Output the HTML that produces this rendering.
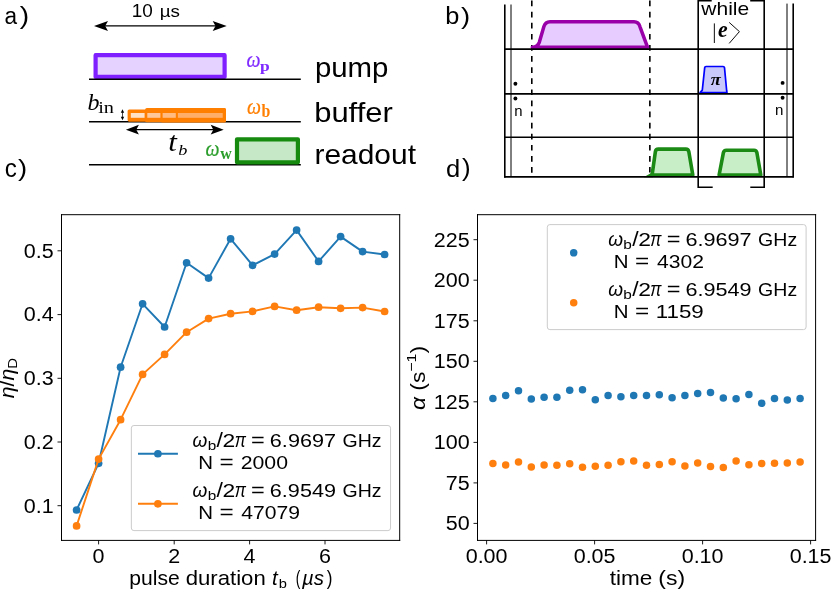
<!DOCTYPE html>
<html><head><meta charset="utf-8"><title>figure</title>
<style>
html,body{margin:0;padding:0;background:#fff;}
svg{display:block;will-change:transform;}
text{white-space:pre;}
</style></head>
<body>
<svg width="831" height="589" viewBox="0 0 831 589">
<rect width="831" height="589" fill="#fff"/>
<text transform="matrix(0.8705,0,0,0.9554,4.54,24.25)" font-size="26" font-family="Liberation Sans, sans-serif" fill="#000" >a</text>
<text transform="matrix(1.0842,0,0,0.9322,19.69,23.77)" font-size="26" font-family="Liberation Sans, sans-serif" fill="#000" >)</text>
<text transform="matrix(0.9302,0,0,0.9554,4.67,176.85)" font-size="26" font-family="Liberation Sans, sans-serif" fill="#000" >c</text>
<text transform="matrix(1.0549,0,0,0.9322,17.89,176.47)" font-size="26" font-family="Liberation Sans, sans-serif" fill="#000" >)</text>
<text transform="matrix(1.0526,0,0,0.9737,131.78,17.02)" font-size="18" font-family="Liberation Sans, sans-serif" fill="#000" >10</text>
<text transform="matrix(1.0454,0,0,0.8874,159.63,17.09)" font-size="18" font-family="Liberation Sans, sans-serif" fill="#000" >µs</text>
<line x1="102.4" y1="25.9" x2="218.29999999999998" y2="25.9" stroke="#000" stroke-width="1.3"/>
<path d="M94,25.9 L108,20.9 L105.2,25.9 L108,30.9 Z" fill="#000"/>
<path d="M226.7,25.9 L212.7,20.9 L215.5,25.9 L212.7,30.9 Z" fill="#000"/>
<rect x="95.6" y="55.15" width="129" height="21.75" fill="#e6d2ff" stroke="#7f1fff" stroke-width="4.2" stroke-linejoin="round"/>
<line x1="89" y1="79.25" x2="300.8" y2="79.25" stroke="#000" stroke-width="1.5"/>
<line x1="89" y1="121.7" x2="300.8" y2="121.7" stroke="#000" stroke-width="1.5"/>
<line x1="89" y1="164.7" x2="300.8" y2="164.7" stroke="#000" stroke-width="1.5"/>
<rect x="127.6" y="109.4" width="98.3" height="12.3" rx="1.6" fill="#ff7f00"/>
<rect x="145.2" y="108" width="80.7" height="14.3" rx="1.6" fill="#ff7f00"/>
<rect x="160.8" y="108" width="65.1" height="14.6" rx="1.6" fill="#ff7f00"/>
<rect x="130.8" y="113.0" width="13.8" height="4.8" fill="#ffe2c6"/>
<rect x="147.3" y="113.0" width="13.1" height="4.8" fill="#ffc898"/>
<rect x="162.6" y="113.0" width="13.2" height="4.8" fill="#ffbb82"/>
<rect x="177.9" y="113.0" width="44.8" height="4.8" fill="#ffae6a"/>
<line x1="133.70000000000002" y1="129.7" x2="215.89999999999998" y2="129.7" stroke="#000" stroke-width="1.3"/>
<path d="M125.9,129.7 L138.9,124.79999999999998 L136.3,129.7 L138.9,134.6 Z" fill="#000"/>
<path d="M223.7,129.7 L210.7,124.79999999999998 L213.29999999999998,129.7 L210.7,134.6 Z" fill="#000"/>
<line x1="122.5" y1="111" x2="122.5" y2="118.5" stroke="#000" stroke-width="0.7"/>
<path d="M122.5,109.2 L124.2,112.8 L120.8,112.8 Z" fill="#000"/><path d="M122.5,120.3 L124.2,116.7 L120.8,116.7 Z" fill="#000"/>
<rect x="237" y="139.3" width="60.9" height="23.0" fill="#c6e8c6" stroke="#158a0e" stroke-width="4.2" stroke-linejoin="round"/>
<text transform="matrix(1.0498,0,0,0.9636,314.89,76.50)" font-size="28" font-family="Liberation Sans, sans-serif" fill="#000" >pump</text>
<text transform="matrix(1.1059,0,0,0.9864,314.19,122.32)" font-size="28" font-family="Liberation Sans, sans-serif" fill="#000" >buffer</text>
<text transform="matrix(1.0690,0,0,0.9815,314.48,164.23)" font-size="28" font-family="Liberation Sans, sans-serif" fill="#000" >readout</text>
<text x="87.4" y="110" font-size="24" font-family="Liberation Serif, serif" font-style="italic">b</text>
<text x="98.2" y="113.1" font-size="16" font-family="Liberation Serif, serif" textLength="15.8" lengthAdjust="spacingAndGlyphs">in</text>
<text transform="matrix(1.1033,0,0,0.9814,168.21,151.33)" font-size="28" font-family="Liberation Serif, serif" font-style="italic" fill="#000" >t</text>
<text transform="matrix(1.0745,0,0,0.9095,178.32,155.05)" font-size="17" font-family="Liberation Serif, serif" font-style="italic" fill="#000" >b</text>
<text x="246.4" y="67" font-size="23" font-family="Liberation Serif, serif" font-style="italic" fill="#7f2aff" stroke="#7f2aff" stroke-width="0.2" textLength="14" lengthAdjust="spacingAndGlyphs">ω</text>
<text x="260.0" y="71.2" font-size="15" font-family="Liberation Serif, serif" font-weight="bold" fill="#7f2aff" textLength="9.7" lengthAdjust="spacingAndGlyphs">p</text>
<text x="247.0" y="114" font-size="23" font-family="Liberation Serif, serif" font-style="italic" fill="#ff7f00" stroke="#ff7f00" stroke-width="0.2" textLength="14" lengthAdjust="spacingAndGlyphs">ω</text>
<text x="261.4" y="117" font-size="18" font-family="Liberation Serif, serif" font-weight="bold" fill="#ff7f00" textLength="8.8" lengthAdjust="spacingAndGlyphs">b</text>
<text x="205.5" y="155.6" font-size="23" font-family="Liberation Serif, serif" font-style="italic" fill="#2a9d2a" stroke="#2a9d2a" stroke-width="0.2" textLength="14" lengthAdjust="spacingAndGlyphs">ω</text>
<text x="220.3" y="159.0" font-size="16" font-family="Liberation Serif, serif" font-weight="bold" fill="#2a9d2a" textLength="11.5" lengthAdjust="spacingAndGlyphs">w</text>
<text transform="matrix(0.9744,0,0,0.9314,445.35,23.76)" font-size="26" font-family="Liberation Sans, sans-serif" fill="#000" >b</text>
<text transform="matrix(1.0549,0,0,0.9363,460.89,23.85)" font-size="26" font-family="Liberation Sans, sans-serif" fill="#000" >)</text>
<text transform="matrix(0.9829,0,0,0.9471,446.11,176.75)" font-size="26" font-family="Liberation Sans, sans-serif" fill="#000" >d</text>
<text transform="matrix(0.9963,0,0,0.9322,462.01,176.47)" font-size="26" font-family="Liberation Sans, sans-serif" fill="#000" >)</text>
<line x1="504.8" y1="4.5" x2="504.8" y2="177.8" stroke="#000" stroke-width="1.6"/>
<line x1="511" y1="4.5" x2="511" y2="177" stroke="#000" stroke-width="1"/>
<line x1="793.2" y1="3.6" x2="793.2" y2="177.6" stroke="#000" stroke-width="1.6"/>
<line x1="787" y1="3.6" x2="787" y2="177" stroke="#000" stroke-width="1"/>
<line x1="531.8" y1="0.6" x2="531.8" y2="173.5" stroke="#000" stroke-width="1.6" stroke-dasharray="5.7,5.4"/>
<line x1="649.85" y1="0.6" x2="649.85" y2="172.5" stroke="#000" stroke-width="1.6" stroke-dasharray="5.7,5.4"/>
<path d="M532.3,47.3 C536,47.1 538,45.8 539.3,42.3 L543.9,26.6 C545,23 547,21.8 550,21.8 L634,21.8 C637.5,21.8 639,23.3 640,26.8 L647.6,47.3 Z" fill="#e6ccff" stroke="#9900a8" stroke-width="3.5" stroke-linejoin="round"/>
<path d="M711.7,0.6 L698.2,0.6 L698.2,187.2 L712.7,187.2 M750.2,0.6 L764.2,0.6 L764.2,187.2 L750.3,187.2" fill="none" stroke="#000" stroke-width="1.6"/>
<text transform="matrix(1.1068,0,0,1.0025,701.30,15.11)" font-size="19" font-family="Liberation Sans, sans-serif" fill="#000" >while</text>
<path d="M714.35,23.4 L714.35,43 M729.2,22.4 L739.4,31.6 L729.2,43.4" fill="none" stroke="#000" stroke-width="0.95"/>
<text transform="matrix(0.9063,0,0,0.9201,718.01,36.58)" font-size="24" font-family="Liberation Serif, serif" font-style="italic" font-weight="bold" fill="#000" >e</text>
<path d="M700,92.6 L702.3,90.2 L704.7,67.6 Q704.8,66.5 706,66.5 L723.1,66.5 Q724.3,66.5 724.5,67.6 L726.7,91 L727,92.6 Z" fill="#c8c8fa" stroke="#0000ff" stroke-width="1.7" stroke-linejoin="round"/>
<text transform="matrix(1.0218,0,0,0.9574,710.86,84.83)" font-size="18" font-family="Liberation Serif, serif" font-style="italic" font-weight="bold" fill="#000" >π</text>
<path d="M643.8,177.3 L651.5,172.8 L653,177.3 Z" fill="#1a8a14"/>
<path d="M652.1,175.0 L655.4,151.6 Q655.8,149.1 658.3,149.1 L685.9,149.1 Q688.3,149.1 688.8,151.5 L692.8,175.0 Z" fill="#c8eec8" stroke="#1a8a14" stroke-width="3.6" stroke-linejoin="round"/>
<path d="M719.1,175.0 L723.4,152.7 Q723.9,150.3 726.4,150.3 L754,150.3 Q756.4,150.3 756.9,152.7 L760.8,175.0 Z" fill="#c8eec8" stroke="#1a8a14" stroke-width="3.6" stroke-linejoin="round"/>
<line x1="504.3" y1="49.1" x2="793.8" y2="49.1" stroke="#000" stroke-width="1.6"/>
<line x1="504.3" y1="93.85" x2="793.8" y2="93.85" stroke="#000" stroke-width="1.6"/>
<line x1="504.3" y1="137.3" x2="793.8" y2="137.3" stroke="#000" stroke-width="1.6"/>
<line x1="504.3" y1="176.9" x2="793.8" y2="176.9" stroke="#000" stroke-width="1.6"/>
<circle cx="515.4" cy="83.8" r="1.95" fill="#000"/><circle cx="515.4" cy="98.5" r="1.95" fill="#000"/>
<circle cx="782.6" cy="82.9" r="1.95" fill="#000"/><circle cx="782.6" cy="97.7" r="1.95" fill="#000"/>
<text transform="matrix(0.9941,0,0,0.9798,514.29,115.70)" font-size="15" font-family="Liberation Sans, sans-serif" fill="#000" >n</text>
<text transform="matrix(1.0099,0,0,0.9798,775.08,114.90)" font-size="15" font-family="Liberation Sans, sans-serif" fill="#000" >n</text>
<path d="M61.5,214.2 L61.5,540.9 M399.7,214.2 L399.7,540.9 M61.0,214.7 L400.2,214.7 M61.0,540.4 L400.2,540.4" fill="none" stroke="#000" stroke-width="1"/>
<polyline points="76.6,510.0 98.6,463.3 120.6,367.2 142.6,303.8 164.6,327.0 186.6,262.8 208.6,278.1 230.6,238.8 252.6,265.3 274.6,254.1 296.6,230.1 318.6,261.4 340.6,236.6 362.6,251.6 384.6,254.5" fill="none" stroke="#1f77b4" stroke-width="1.9" stroke-linejoin="round"/>
<circle cx="76.6" cy="510.0" r="3.85" fill="#1f77b4"/>
<circle cx="98.6" cy="463.3" r="3.85" fill="#1f77b4"/>
<circle cx="120.6" cy="367.2" r="3.85" fill="#1f77b4"/>
<circle cx="142.6" cy="303.8" r="3.85" fill="#1f77b4"/>
<circle cx="164.6" cy="327.0" r="3.85" fill="#1f77b4"/>
<circle cx="186.6" cy="262.8" r="3.85" fill="#1f77b4"/>
<circle cx="208.6" cy="278.1" r="3.85" fill="#1f77b4"/>
<circle cx="230.6" cy="238.8" r="3.85" fill="#1f77b4"/>
<circle cx="252.6" cy="265.3" r="3.85" fill="#1f77b4"/>
<circle cx="274.6" cy="254.1" r="3.85" fill="#1f77b4"/>
<circle cx="296.6" cy="230.1" r="3.85" fill="#1f77b4"/>
<circle cx="318.6" cy="261.4" r="3.85" fill="#1f77b4"/>
<circle cx="340.6" cy="236.6" r="3.85" fill="#1f77b4"/>
<circle cx="362.6" cy="251.6" r="3.85" fill="#1f77b4"/>
<circle cx="384.6" cy="254.5" r="3.85" fill="#1f77b4"/>
<polyline points="76.6,525.9 98.6,459.1 120.6,419.7 142.6,374.4 164.6,354.4 186.6,332.2 208.6,318.6 230.6,313.7 252.6,311.4 274.6,306.4 296.6,310.2 318.6,307.2 340.6,308.3 362.6,307.6 384.6,311.5" fill="none" stroke="#ff7f0e" stroke-width="1.9" stroke-linejoin="round"/>
<circle cx="76.6" cy="525.9" r="3.85" fill="#ff7f0e"/>
<circle cx="98.6" cy="459.1" r="3.85" fill="#ff7f0e"/>
<circle cx="120.6" cy="419.7" r="3.85" fill="#ff7f0e"/>
<circle cx="142.6" cy="374.4" r="3.85" fill="#ff7f0e"/>
<circle cx="164.6" cy="354.4" r="3.85" fill="#ff7f0e"/>
<circle cx="186.6" cy="332.2" r="3.85" fill="#ff7f0e"/>
<circle cx="208.6" cy="318.6" r="3.85" fill="#ff7f0e"/>
<circle cx="230.6" cy="313.7" r="3.85" fill="#ff7f0e"/>
<circle cx="252.6" cy="311.4" r="3.85" fill="#ff7f0e"/>
<circle cx="274.6" cy="306.4" r="3.85" fill="#ff7f0e"/>
<circle cx="296.6" cy="310.2" r="3.85" fill="#ff7f0e"/>
<circle cx="318.6" cy="307.2" r="3.85" fill="#ff7f0e"/>
<circle cx="340.6" cy="308.3" r="3.85" fill="#ff7f0e"/>
<circle cx="362.6" cy="307.6" r="3.85" fill="#ff7f0e"/>
<circle cx="384.6" cy="311.5" r="3.85" fill="#ff7f0e"/>
<line x1="57.5" y1="250.8" x2="61.5" y2="250.8" stroke="#000" stroke-width="0.9"/>
<text transform="matrix(1.0755,0,0,0.98,53.70,257.65)" font-size="20" font-family="Liberation Sans, sans-serif" text-anchor="end">0.5</text>
<line x1="57.5" y1="314.6" x2="61.5" y2="314.6" stroke="#000" stroke-width="0.9"/>
<text transform="matrix(1.0755,0,0,0.98,53.70,321.45)" font-size="20" font-family="Liberation Sans, sans-serif" text-anchor="end">0.4</text>
<line x1="57.5" y1="378.3" x2="61.5" y2="378.3" stroke="#000" stroke-width="0.9"/>
<text transform="matrix(1.0755,0,0,0.98,53.70,385.15)" font-size="20" font-family="Liberation Sans, sans-serif" text-anchor="end">0.3</text>
<line x1="57.5" y1="442.0" x2="61.5" y2="442.0" stroke="#000" stroke-width="0.9"/>
<text transform="matrix(1.0755,0,0,0.98,53.70,448.85)" font-size="20" font-family="Liberation Sans, sans-serif" text-anchor="end">0.2</text>
<line x1="57.5" y1="505.7" x2="61.5" y2="505.7" stroke="#000" stroke-width="0.9"/>
<text transform="matrix(1.0755,0,0,0.98,53.70,512.55)" font-size="20" font-family="Liberation Sans, sans-serif" text-anchor="end">0.1</text>
<line x1="98.6" y1="540.4" x2="98.6" y2="544.4" stroke="#000" stroke-width="0.9"/>
<text transform="matrix(1.0755,0,0,0.98,98.60,562.70)" font-size="20" font-family="Liberation Sans, sans-serif" text-anchor="middle">0</text>
<line x1="174.2" y1="540.4" x2="174.2" y2="544.4" stroke="#000" stroke-width="0.9"/>
<text transform="matrix(1.0755,0,0,0.98,174.20,562.70)" font-size="20" font-family="Liberation Sans, sans-serif" text-anchor="middle">2</text>
<line x1="249.6" y1="540.4" x2="249.6" y2="544.4" stroke="#000" stroke-width="0.9"/>
<text transform="matrix(1.0755,0,0,0.98,249.60,562.70)" font-size="20" font-family="Liberation Sans, sans-serif" text-anchor="middle">4</text>
<line x1="325.0" y1="540.4" x2="325.0" y2="544.4" stroke="#000" stroke-width="0.9"/>
<text transform="matrix(1.0755,0,0,0.98,325.00,562.70)" font-size="20" font-family="Liberation Sans, sans-serif" text-anchor="middle">6</text>
<text transform="matrix(1.0559,0,0,0.9750,129.33,584.50)" font-size="20" font-family="Liberation Sans, sans-serif" fill="#000" >pulse</text>
<text transform="matrix(1.1084,0,0,0.9750,185.66,584.50)" font-size="20" font-family="Liberation Sans, sans-serif" fill="#000" >duration</text>
<text transform="matrix(1.0280,0,0,0.9750,272.07,584.50)" font-size="20" font-family="Liberation Sans, sans-serif" font-style="italic" fill="#000" >t</text>
<text transform="matrix(1.0476,0,0,0.9750,278.75,587.80)" font-size="14" font-family="Liberation Sans, sans-serif" fill="#000" >b</text>
<text transform="matrix(0.6857,0,0,0.9750,295.84,584.50)" font-size="20" font-family="Liberation Sans, sans-serif" fill="#000" >(</text>
<text transform="matrix(1.0237,0,0,0.9750,301.90,584.50)" font-size="20" font-family="Liberation Sans, sans-serif" font-style="italic" fill="#000" >µs</text>
<text transform="matrix(0.8571,0,0,0.9750,326.87,584.50)" font-size="20" font-family="Liberation Sans, sans-serif" fill="#000" >)</text>
<text transform="translate(14.4,398.2) rotate(-90)" font-size="19.6" font-family="Liberation Sans, sans-serif" textLength="40.3" lengthAdjust="spacingAndGlyphs"><tspan font-style="italic">η</tspan>/<tspan font-style="italic">η</tspan><tspan font-size="13.7" dy="2.5">D</tspan></text>
<rect x="131.35" y="425.5" width="259.2" height="105.1" rx="2.6" fill="#fff" fill-opacity="0.8" stroke="#ccc" stroke-width="1"/>
<line x1="138" y1="453.75" x2="177.9" y2="453.75" stroke="#1f77b4" stroke-width="1.9"/><circle cx="157.9" cy="453.75" r="3.85" fill="#1f77b4"/>
<line x1="138" y1="503.8" x2="177.9" y2="503.8" stroke="#ff7f0e" stroke-width="1.9"/><circle cx="157.9" cy="503.8" r="3.85" fill="#ff7f0e"/>
<text transform="matrix(0.9510,0,0,0.9750,192.58,446.80)" font-size="20" font-family="Liberation Sans, sans-serif" font-style="italic" fill="#000" >ω</text>
<text transform="matrix(1.0952,0,0,0.9750,207.70,449.80)" font-size="14" font-family="Liberation Sans, sans-serif" fill="#000" >b</text>
<text transform="matrix(1.1532,0,0,0.9750,216.60,446.80)" font-size="20" font-family="Liberation Sans, sans-serif" fill="#000" >/</text>
<text transform="matrix(1.1429,0,0,0.9580,222.56,446.80)" font-size="20" font-family="Liberation Sans, sans-serif" fill="#000" >2</text>
<text transform="matrix(0.8359,0,0,0.9750,234.65,446.80)" font-size="20" font-family="Liberation Sans, sans-serif" font-style="italic" fill="#000" >π</text>
<text transform="matrix(1.1753,0,0,0.9750,251.12,446.80)" font-size="20" font-family="Liberation Sans, sans-serif" fill="#000" >=</text>
<text transform="matrix(1.0837,0,0,0.9580,269.82,446.80)" font-size="20" font-family="Liberation Sans, sans-serif" fill="#000" >6.9697</text>
<text transform="matrix(0.9763,0,0,0.9580,342.52,446.80)" font-size="20" font-family="Liberation Sans, sans-serif" fill="#000" >GHz</text>
<text transform="matrix(1.0224,0,0,0.9580,198.21,469.00)" font-size="20" font-family="Liberation Sans, sans-serif" fill="#000" >N</text>
<text transform="matrix(1.2165,0,0,0.9750,219.48,469.00)" font-size="20" font-family="Liberation Sans, sans-serif" fill="#000" >=</text>
<text transform="matrix(1.0632,0,0,0.9580,240.74,469.00)" font-size="20" font-family="Liberation Sans, sans-serif" fill="#000" >2000</text>
<text transform="matrix(0.9510,0,0,0.9750,192.58,496.80)" font-size="20" font-family="Liberation Sans, sans-serif" font-style="italic" fill="#000" >ω</text>
<text transform="matrix(1.0952,0,0,0.9750,207.70,499.80)" font-size="14" font-family="Liberation Sans, sans-serif" fill="#000" >b</text>
<text transform="matrix(1.1532,0,0,0.9750,216.60,496.80)" font-size="20" font-family="Liberation Sans, sans-serif" fill="#000" >/</text>
<text transform="matrix(1.1429,0,0,0.9580,222.56,496.80)" font-size="20" font-family="Liberation Sans, sans-serif" fill="#000" >2</text>
<text transform="matrix(0.8359,0,0,0.9750,234.65,496.80)" font-size="20" font-family="Liberation Sans, sans-serif" font-style="italic" fill="#000" >π</text>
<text transform="matrix(1.1753,0,0,0.9750,251.12,496.80)" font-size="20" font-family="Liberation Sans, sans-serif" fill="#000" >=</text>
<text transform="matrix(1.0819,0,0,0.9580,269.82,496.80)" font-size="20" font-family="Liberation Sans, sans-serif" fill="#000" >6.9549</text>
<text transform="matrix(0.9763,0,0,0.9580,342.52,496.80)" font-size="20" font-family="Liberation Sans, sans-serif" fill="#000" >GHz</text>
<text transform="matrix(1.0224,0,0,0.9580,198.21,519.00)" font-size="20" font-family="Liberation Sans, sans-serif" fill="#000" >N</text>
<text transform="matrix(1.2165,0,0,0.9750,219.48,519.00)" font-size="20" font-family="Liberation Sans, sans-serif" fill="#000" >=</text>
<text transform="matrix(1.0573,0,0,0.9580,241.32,519.00)" font-size="20" font-family="Liberation Sans, sans-serif" fill="#000" >47079</text>
<path d="M477.5,214.2 L477.5,540.9 M815.6,214.2 L815.6,540.9 M477.0,214.7 L816.1,214.7 M477.0,540.4 L816.1,540.4" fill="none" stroke="#000" stroke-width="1"/>
<circle cx="492.9" cy="398.4" r="3.75" fill="#1f77b4"/>
<circle cx="505.7" cy="395.6" r="3.75" fill="#1f77b4"/>
<circle cx="518.5" cy="390.8" r="3.75" fill="#1f77b4"/>
<circle cx="531.3" cy="399.1" r="3.75" fill="#1f77b4"/>
<circle cx="544.1" cy="397.3" r="3.75" fill="#1f77b4"/>
<circle cx="556.9" cy="397.3" r="3.75" fill="#1f77b4"/>
<circle cx="569.7" cy="390.2" r="3.75" fill="#1f77b4"/>
<circle cx="582.5" cy="389.7" r="3.75" fill="#1f77b4"/>
<circle cx="595.3" cy="399.7" r="3.75" fill="#1f77b4"/>
<circle cx="608.1" cy="395.6" r="3.75" fill="#1f77b4"/>
<circle cx="620.9" cy="396.7" r="3.75" fill="#1f77b4"/>
<circle cx="633.7" cy="395.4" r="3.75" fill="#1f77b4"/>
<circle cx="646.5" cy="395.6" r="3.75" fill="#1f77b4"/>
<circle cx="659.3" cy="394.7" r="3.75" fill="#1f77b4"/>
<circle cx="672.1" cy="397.8" r="3.75" fill="#1f77b4"/>
<circle cx="684.9" cy="395.4" r="3.75" fill="#1f77b4"/>
<circle cx="697.7" cy="393.4" r="3.75" fill="#1f77b4"/>
<circle cx="710.5" cy="392.6" r="3.75" fill="#1f77b4"/>
<circle cx="723.3" cy="398.0" r="3.75" fill="#1f77b4"/>
<circle cx="736.1" cy="398.8" r="3.75" fill="#1f77b4"/>
<circle cx="748.9" cy="394.5" r="3.75" fill="#1f77b4"/>
<circle cx="761.7" cy="403.2" r="3.75" fill="#1f77b4"/>
<circle cx="774.5" cy="398.4" r="3.75" fill="#1f77b4"/>
<circle cx="787.3" cy="399.9" r="3.75" fill="#1f77b4"/>
<circle cx="800.1" cy="398.6" r="3.75" fill="#1f77b4"/>
<circle cx="492.9" cy="463.6" r="3.75" fill="#ff7f0e"/>
<circle cx="505.7" cy="464.9" r="3.75" fill="#ff7f0e"/>
<circle cx="518.5" cy="461.9" r="3.75" fill="#ff7f0e"/>
<circle cx="531.3" cy="466.9" r="3.75" fill="#ff7f0e"/>
<circle cx="544.1" cy="464.9" r="3.75" fill="#ff7f0e"/>
<circle cx="556.9" cy="465.3" r="3.75" fill="#ff7f0e"/>
<circle cx="569.7" cy="463.8" r="3.75" fill="#ff7f0e"/>
<circle cx="582.5" cy="467.3" r="3.75" fill="#ff7f0e"/>
<circle cx="595.3" cy="466.2" r="3.75" fill="#ff7f0e"/>
<circle cx="608.1" cy="465.3" r="3.75" fill="#ff7f0e"/>
<circle cx="620.9" cy="461.7" r="3.75" fill="#ff7f0e"/>
<circle cx="633.7" cy="461.0" r="3.75" fill="#ff7f0e"/>
<circle cx="646.5" cy="465.3" r="3.75" fill="#ff7f0e"/>
<circle cx="659.3" cy="464.5" r="3.75" fill="#ff7f0e"/>
<circle cx="672.1" cy="461.7" r="3.75" fill="#ff7f0e"/>
<circle cx="684.9" cy="466.0" r="3.75" fill="#ff7f0e"/>
<circle cx="697.7" cy="463.0" r="3.75" fill="#ff7f0e"/>
<circle cx="710.5" cy="466.6" r="3.75" fill="#ff7f0e"/>
<circle cx="723.3" cy="467.5" r="3.75" fill="#ff7f0e"/>
<circle cx="736.1" cy="461.0" r="3.75" fill="#ff7f0e"/>
<circle cx="748.9" cy="464.7" r="3.75" fill="#ff7f0e"/>
<circle cx="761.7" cy="463.6" r="3.75" fill="#ff7f0e"/>
<circle cx="774.5" cy="463.2" r="3.75" fill="#ff7f0e"/>
<circle cx="787.3" cy="463.0" r="3.75" fill="#ff7f0e"/>
<circle cx="800.1" cy="461.9" r="3.75" fill="#ff7f0e"/>
<line x1="473.5" y1="239.7" x2="477.5" y2="239.7" stroke="#000" stroke-width="0.9"/>
<text transform="matrix(1.0755,0,0,0.98,469.70,246.55)" font-size="20" font-family="Liberation Sans, sans-serif" text-anchor="end">225</text>
<line x1="473.5" y1="280.2" x2="477.5" y2="280.2" stroke="#000" stroke-width="0.9"/>
<text transform="matrix(1.0755,0,0,0.98,469.70,287.05)" font-size="20" font-family="Liberation Sans, sans-serif" text-anchor="end">200</text>
<line x1="473.5" y1="320.8" x2="477.5" y2="320.8" stroke="#000" stroke-width="0.9"/>
<text transform="matrix(1.0755,0,0,0.98,469.70,327.65)" font-size="20" font-family="Liberation Sans, sans-serif" text-anchor="end">175</text>
<line x1="473.5" y1="361.3" x2="477.5" y2="361.3" stroke="#000" stroke-width="0.9"/>
<text transform="matrix(1.0755,0,0,0.98,469.70,368.15)" font-size="20" font-family="Liberation Sans, sans-serif" text-anchor="end">150</text>
<line x1="473.5" y1="401.8" x2="477.5" y2="401.8" stroke="#000" stroke-width="0.9"/>
<text transform="matrix(1.0755,0,0,0.98,469.70,408.65)" font-size="20" font-family="Liberation Sans, sans-serif" text-anchor="end">125</text>
<line x1="473.5" y1="442.4" x2="477.5" y2="442.4" stroke="#000" stroke-width="0.9"/>
<text transform="matrix(1.0755,0,0,0.98,469.70,449.25)" font-size="20" font-family="Liberation Sans, sans-serif" text-anchor="end">100</text>
<line x1="473.5" y1="482.9" x2="477.5" y2="482.9" stroke="#000" stroke-width="0.9"/>
<text transform="matrix(1.0755,0,0,0.98,469.70,489.75)" font-size="20" font-family="Liberation Sans, sans-serif" text-anchor="end">75</text>
<line x1="473.5" y1="523.4" x2="477.5" y2="523.4" stroke="#000" stroke-width="0.9"/>
<text transform="matrix(1.0755,0,0,0.98,469.70,530.25)" font-size="20" font-family="Liberation Sans, sans-serif" text-anchor="end">50</text>
<line x1="486.6" y1="540.4" x2="486.6" y2="544.4" stroke="#000" stroke-width="0.9"/>
<text transform="matrix(1.0755,0,0,0.98,486.60,562.70)" font-size="20" font-family="Liberation Sans, sans-serif" text-anchor="middle">0.00</text>
<line x1="594.6" y1="540.4" x2="594.6" y2="544.4" stroke="#000" stroke-width="0.9"/>
<text transform="matrix(1.0755,0,0,0.98,594.60,562.70)" font-size="20" font-family="Liberation Sans, sans-serif" text-anchor="middle">0.05</text>
<line x1="702.6" y1="540.4" x2="702.6" y2="544.4" stroke="#000" stroke-width="0.9"/>
<text transform="matrix(1.0755,0,0,0.98,702.60,562.70)" font-size="20" font-family="Liberation Sans, sans-serif" text-anchor="middle">0.10</text>
<line x1="810.6" y1="540.4" x2="810.6" y2="544.4" stroke="#000" stroke-width="0.9"/>
<text transform="matrix(1.0755,0,0,0.98,810.60,562.70)" font-size="20" font-family="Liberation Sans, sans-serif" text-anchor="middle">0.15</text>
<text transform="matrix(1.1284,0,0,0.9750,609.66,584.50)" font-size="20" font-family="Liberation Sans, sans-serif" fill="#000" >time</text>
<text transform="matrix(1.1490,0,0,0.9750,658.26,584.50)" font-size="20" font-family="Liberation Sans, sans-serif" fill="#000" >(s)</text>
<text transform="translate(424.9,410) rotate(-90)" font-size="19.6" font-family="Liberation Sans, sans-serif" textLength="64" lengthAdjust="spacingAndGlyphs"><tspan font-style="italic">α</tspan> (s<tspan font-size="13.7" dy="-9">−1</tspan><tspan dy="9">)</tspan></text>
<rect x="547.3" y="224.6" width="258.8" height="105.0" rx="2.6" fill="#fff" fill-opacity="0.8" stroke="#ccc" stroke-width="1"/>
<circle cx="573.7" cy="252.8" r="3.75" fill="#1f77b4"/>
<circle cx="573.7" cy="302.8" r="3.75" fill="#ff7f0e"/>
<text transform="matrix(0.9510,0,0,0.9750,608.18,245.70)" font-size="20" font-family="Liberation Sans, sans-serif" font-style="italic" fill="#000" >ω</text>
<text transform="matrix(1.0952,0,0,0.9750,623.30,248.70)" font-size="14" font-family="Liberation Sans, sans-serif" fill="#000" >b</text>
<text transform="matrix(1.1532,0,0,0.9750,632.20,245.70)" font-size="20" font-family="Liberation Sans, sans-serif" fill="#000" >/</text>
<text transform="matrix(1.1429,0,0,0.9580,638.16,245.70)" font-size="20" font-family="Liberation Sans, sans-serif" fill="#000" >2</text>
<text transform="matrix(0.8359,0,0,0.9750,650.25,245.70)" font-size="20" font-family="Liberation Sans, sans-serif" font-style="italic" fill="#000" >π</text>
<text transform="matrix(1.1753,0,0,0.9750,666.72,245.70)" font-size="20" font-family="Liberation Sans, sans-serif" fill="#000" >=</text>
<text transform="matrix(1.0837,0,0,0.9580,685.42,245.70)" font-size="20" font-family="Liberation Sans, sans-serif" fill="#000" >6.9697</text>
<text transform="matrix(0.9763,0,0,0.9580,758.12,245.70)" font-size="20" font-family="Liberation Sans, sans-serif" fill="#000" >GHz</text>
<text transform="matrix(1.0224,0,0,0.9580,613.81,267.80)" font-size="20" font-family="Liberation Sans, sans-serif" fill="#000" >N</text>
<text transform="matrix(1.2165,0,0,0.9750,635.08,267.80)" font-size="20" font-family="Liberation Sans, sans-serif" fill="#000" >=</text>
<text transform="matrix(1.0558,0,0,0.9580,656.92,267.80)" font-size="20" font-family="Liberation Sans, sans-serif" fill="#000" >4302</text>
<text transform="matrix(0.9510,0,0,0.9750,608.18,295.70)" font-size="20" font-family="Liberation Sans, sans-serif" font-style="italic" fill="#000" >ω</text>
<text transform="matrix(1.0952,0,0,0.9750,623.30,298.70)" font-size="14" font-family="Liberation Sans, sans-serif" fill="#000" >b</text>
<text transform="matrix(1.1532,0,0,0.9750,632.20,295.70)" font-size="20" font-family="Liberation Sans, sans-serif" fill="#000" >/</text>
<text transform="matrix(1.1429,0,0,0.9580,638.16,295.70)" font-size="20" font-family="Liberation Sans, sans-serif" fill="#000" >2</text>
<text transform="matrix(0.8359,0,0,0.9750,650.25,295.70)" font-size="20" font-family="Liberation Sans, sans-serif" font-style="italic" fill="#000" >π</text>
<text transform="matrix(1.1753,0,0,0.9750,666.72,295.70)" font-size="20" font-family="Liberation Sans, sans-serif" fill="#000" >=</text>
<text transform="matrix(1.0819,0,0,0.9580,685.42,295.70)" font-size="20" font-family="Liberation Sans, sans-serif" fill="#000" >6.9549</text>
<text transform="matrix(0.9763,0,0,0.9580,758.12,295.70)" font-size="20" font-family="Liberation Sans, sans-serif" fill="#000" >GHz</text>
<text transform="matrix(1.0224,0,0,0.9580,613.81,317.90)" font-size="20" font-family="Liberation Sans, sans-serif" fill="#000" >N</text>
<text transform="matrix(1.2165,0,0,0.9750,635.08,317.90)" font-size="20" font-family="Liberation Sans, sans-serif" fill="#000" >=</text>
<text transform="matrix(1.1182,0,0,0.9580,655.72,317.90)" font-size="20" font-family="Liberation Sans, sans-serif" fill="#000" >1159</text>
</svg>
</body></html>
